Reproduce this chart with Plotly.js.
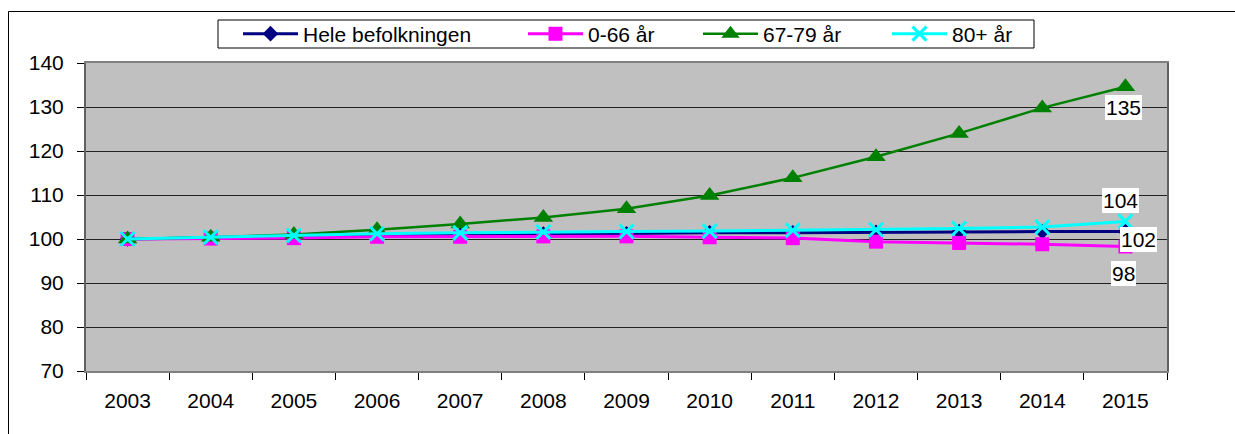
<!DOCTYPE html>
<html>
<head>
<meta charset="utf-8">
<script src="https://cdn.plot.ly/plotly-3.0.1.min.js"></script>
<style>html,body{margin:0;padding:0;background:#fff;}#chart{width:1235px;height:434px;}#err{position:absolute;left:300px;top:300px;color:red;font:14px sans-serif;}</style>
</head>
<body>
<div id="chart"></div>
<div id="err"></div>
<script>
const years = ['2003','2004','2005','2006','2007','2008','2009','2010','2011','2012','2013','2014','2015'];
const seriesNames = ['Hele befolkningen','0-66 år','67-79 år','80+ år'];
const hele  = [100, 100.3, 100.5, 100.8, 100.9, 101.1, 101.2, 101.4, 101.4, 101.5, 101.7, 101.7, 101.7];
const age0  = [100, 100.1, 100.2, 100.5, 100.5, 100.6, 100.6, 100.4, 100.2, 99.4, 99.1, 98.8, 98.3];
const age67 = [100, 100.4, 101.0, 102.1, 103.4, 104.9, 106.9, 109.9, 113.9, 118.7, 124.0, 129.8, 134.6];
const age80 = [100, 100.4, 100.8, 101.2, 101.4, 101.6, 101.7, 101.8, 102.0, 102.1, 102.4, 102.7, 104.0];

const FONT = 'Liberation Sans, Arial, sans-serif';
const FS = 21;

const traces = [
  {x: years, y: hele, name: seriesNames[0], mode: 'lines+markers', legend: 'legend',
   line: {color: '#000080', width: 3}, marker: {symbol: 'diamond', size: 12, color: '#000080'}},
  {x: years, y: age0, name: seriesNames[1], mode: 'lines+markers', legend: 'legend2',
   line: {color: '#FF00FF', width: 3}, marker: {symbol: 'square', size: 14, color: '#FF00FF'}},
  {x: years, y: age67, name: seriesNames[2], mode: 'lines+markers', legend: 'legend3',
   line: {color: '#008000', width: 2.5}, marker: {symbol: 'triangle-up', size: 17, color: '#008000'}},
  {x: years, y: age80, name: seriesNames[3], mode: 'lines+markers', legend: 'legend4',
   line: {color: '#00FFFF', width: 3}, marker: {symbol: 'x-thin', size: 14, color: '#00FFFF', line: {color: '#00FFFF', width: 3}}}
];

const last = years.length - 1;
function lab(arr, xs, ys) {
  return {xref: 'x', yref: 'y', x: last, y: arr[last], text: String(Math.round(arr[last])), showarrow: false,
    xanchor: 'center', yanchor: 'middle',
    xshift: xs, yshift: ys, bgcolor: '#ffffff', borderpad: 1, borderwidth: 0,
    font: {family: FONT, size: FS, color: '#000000'}};
}

function leg(xpx) {
  return {x: (xpx - 86) / 1081, y: (371 - 34) / 308, xanchor: 'left', yanchor: 'middle',
    orientation: 'h', bgcolor: 'rgba(0,0,0,0)', borderwidth: 0, itemwidth: 55,
    font: {family: FONT, size: FS, color: '#000'}};
}

const layout = {
  width: 1235, height: 434,
  margin: {l: 86, r: 68, t: 63, b: 63},
  paper_bgcolor: '#ffffff', plot_bgcolor: '#C0C0C0',
  font: {family: FONT, size: FS, color: '#000'},
  showlegend: true,
  legend: leg(238), legend2: leg(523), legend3: leg(698), legend4: leg(887),
  xaxis: {type: 'category', range: [-0.5, 12.5], tickson: 'boundaries', ticks: 'outside', ticklen: 7,
    tickcolor: '#000', showgrid: false, showline: true, linecolor: '#808080', linewidth: 2, mirror: true,
    ticklabelstandoff: 10, zeroline: false, tickfont: {family: FONT, size: FS, color: '#000'}},
  yaxis: {range: [70, 140], dtick: 10, ticks: 'outside', ticklen: 7, tickcolor: '#000',
    showgrid: true, gridcolor: '#222', gridwidth: 1, showline: true, linecolor: '#606060', linewidth: 2,
    mirror: true, zeroline: false, ticklabelstandoff: 9, tickfont: {family: FONT, size: FS, color: '#000'}},
  annotations: [lab(age67, -2, -21), lab(age80, -5, 21), lab(hele, 13, -8), lab(age0, -2, -27)],
  shapes: [
    {type: 'rect', xref: 'paper', yref: 'paper', x0: (218-86)/1081, x1: (1034-86)/1081,
     y0: (371-48)/308, y1: (371-20)/308, line: {color: '#000', width: 1}, fillcolor: 'rgba(0,0,0,0)'},
    {type: 'line', xref: 'paper', yref: 'paper', x0: (8.5-86)/1081, x1: (1240-86)/1081,
     y0: (371-11.5)/308, y1: (371-11.5)/308, line: {color: '#000', width: 1}},
    {type: 'line', xref: 'paper', yref: 'paper', x0: (8.5-86)/1081, x1: (8.5-86)/1081,
     y0: (371-11.5)/308, y1: (371-440)/308, line: {color: '#000', width: 1}}
  ]
};

try {
  Plotly.newPlot('chart', traces, layout, {displayModeBar: false}).then(function(gd){
    var n = gd.querySelectorAll('.annotation').length;
    if (n === 0) document.getElementById('err').textContent = 'annotations: ' + n;
  }).catch(function(e){ document.getElementById('err').textContent = String(e); });
} catch (e) { document.getElementById('err').textContent = String(e); }
</script>
</body>
</html>
